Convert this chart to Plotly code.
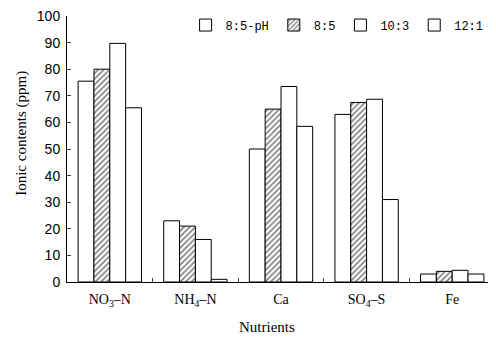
import plotly.graph_objects as go

categories = ["NO<sub>3</sub>–N", "NH<sub>4</sub>–N", "Ca", "SO<sub>4</sub>–S", "Fe"]
series_names = ["8:5-pH", "8:5", "10:3", "12:1"]
s_85ph = [75.5, 23, 50, 63, 3]
s_85 = [80, 21, 65, 67.5, 4]
s_103 = [89.7, 16, 73.5, 68.7, 4.4]
s_121 = [65.5, 1, 58.5, 31, 3]
y_ticks = list(range(0, 101, 10))

serif = "Liberation Serif"
fig = go.Figure()
for name, vals in zip(series_names, [s_85ph, s_85, s_103, s_121]):
    if name == "8:5":
        pattern = dict(shape="/", fgcolor="black", bgcolor="white", size=4, solidity=0.4)
    else:
        pattern = dict(shape="")
    fig.add_trace(go.Bar(
        x=categories, y=vals, name=name,
        marker=dict(color="white", line=dict(color="black", width=1), pattern=pattern),
    ))

# page body has an 8px margin, so the figure is sized to fit the window
fig.update_layout(
    width=488, height=331,
    paper_bgcolor="white", plot_bgcolor="white",
    margin=dict(l=59, r=1, t=8, b=57),
    barmode="group", bargap=0.26, bargroupgap=0,
    showlegend=True,
    legend=dict(orientation="h", x=0.985, xanchor="right", y=0.966, yanchor="middle",
                font=dict(family="Liberation Mono", size=12, color="black"),
                bgcolor="rgba(0,0,0,0)", itemwidth=30, traceorder="normal",
                borderwidth=0),
    font=dict(family=serif, color="black"),
)
fig.update_yaxes(range=[0, 100], tickvals=y_ticks, ticks="inside", ticklen=4,
                 showline=True, linecolor="black", linewidth=1, showgrid=False,
                 zeroline=False, ticklabelstandoff=3, automargin=False,
                 ticklabeloverflow="allow",
                 tickfont=dict(family="Liberation Sans", size=14, color="black"))
fig.update_xaxes(ticks="inside", tickson="boundaries", ticklen=4, showline=True,
                 linecolor="black", linewidth=1, showgrid=False, ticklabelstandoff=4,
                 automargin=False, ticklabeloverflow="allow",
                 tickfont=dict(family=serif, size=14, color="black"))
fig.add_annotation(text="Ionic contents (ppm)", textangle=-90, xref="paper", yref="paper",
                   x=-0.108, xanchor="center", y=0.56, yanchor="middle", showarrow=False,
                   font=dict(family=serif, size=15, color="black"))
fig.add_annotation(text="Nutrients", xref="paper", yref="paper", x=0.467, xanchor="center",
                   y=-0.169, yanchor="middle", showarrow=False,
                   font=dict(family=serif, size=15, color="black"))
fig.write_html("out.html")
